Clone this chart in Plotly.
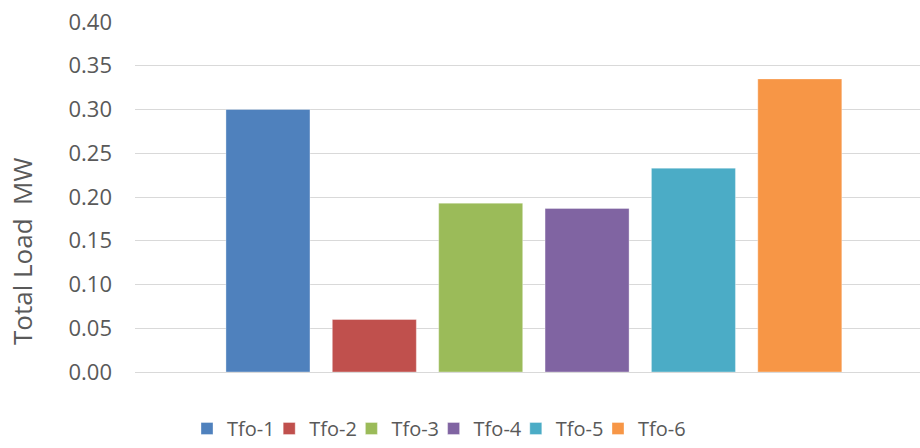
import plotly.graph_objects as go

transformers = ["Tfo-1", "Tfo-2", "Tfo-3", "Tfo-4", "Tfo-5", "Tfo-6"]
total_load_mw = [0.300, 0.060, 0.193, 0.187, 0.233, 0.335]
colors = ["#4F81BD", "#C0504D", "#9BBB59", "#8064A2", "#4BACC6", "#F79646"]
y_ticks = [0.00, 0.05, 0.10, 0.15, 0.20, 0.25, 0.30, 0.35, 0.40]
y_tick_labels = ["0.00", "0.05", "0.10", "0.15", "0.20", "0.25", "0.30", "0.35", "0.40"]

FONT = "Open Sans, Lato, sans-serif"
TXT = "#595959"
PLOT_LEFT, PLOT_W = 135, 785
LEG_START, LEG_STEP = 187, 82.2

fig = go.Figure()
legend_layouts = {}
for i, (name, val, col) in enumerate(zip(transformers, total_load_mw, colors)):
    key = "legend" if i == 0 else f"legend{i + 1}"
    fig.add_trace(go.Bar(
        x=[name], y=[val], name=name, width=0.79,
        marker=dict(color=col, line=dict(color="rgba(255,255,255,0.35)", width=1)),
        legend=key,
    ))
    legend_layouts[key] = dict(
        orientation="h", yref="container", y=0.0, yanchor="bottom",
        x=(LEG_START + LEG_STEP * i - PLOT_LEFT) / PLOT_W, xanchor="left",
        font=dict(family=FONT, size=20, color=TXT), itemwidth=30,
        bgcolor="rgba(0,0,0,0)",
    )

fig.update_layout(
    width=920, height=448,
    margin=dict(l=PLOT_LEFT, r=0, t=22, b=76),
    paper_bgcolor="white", plot_bgcolor="white",
    barmode="overlay",
    showlegend=True,
    xaxis=dict(
        type="category", categoryorder="array", categoryarray=transformers,
        range=[-1.25, 6.13], showticklabels=False, showgrid=False,
        zeroline=False, showline=False, ticks="",
    ),
    yaxis=dict(
        range=[0, 0.4], tickvals=y_ticks, ticktext=y_tick_labels,
        showgrid=True, gridcolor="#D9D9D9", gridwidth=1,
        zeroline=True, zerolinecolor="#D9D9D9", zerolinewidth=1,
        showline=False, ticks="", ticklabelstandoff=22,
        tickfont=dict(family=FONT, size=22, color=TXT),
    ),
    annotations=[dict(
        text="Total Load\u00a0\u00a0MW", textangle=-90,
        xref="paper", yref="paper", x=(22 - PLOT_LEFT) / PLOT_W, y=(372 - 252) / 350,
        xanchor="center", yanchor="middle", showarrow=False,
        font=dict(family=FONT, size=26, color=TXT),
    )],
    **legend_layouts,
)

fig.write_html("out.html")
